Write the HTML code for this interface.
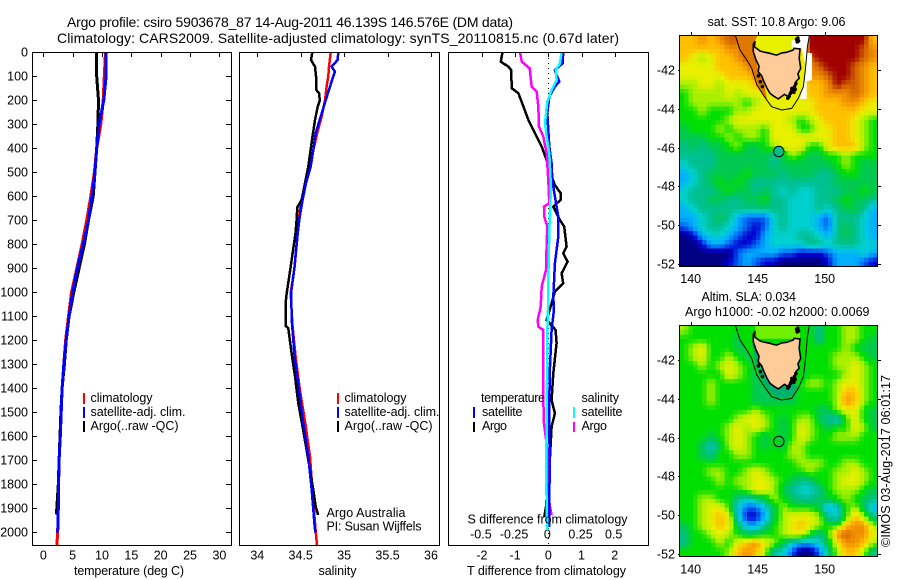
<!DOCTYPE html>
<html lang="en">
<head>
<meta charset="utf-8">
<title>Argo profile 5903678_87</title>
<style>
html,body{margin:0;padding:0;background:#fff;}
svg{display:block;font-family:"Liberation Sans",sans-serif;font-size:12.5px;fill:#000;}
.fr{fill:none;stroke:#000;stroke-width:1;shape-rendering:crispEdges;}
</style>
</head>
<body>
<svg id="root" xmlns="http://www.w3.org/2000/svg" width="900" height="580" viewBox="0 0 900 580">
<rect x="0" y="0" width="900" height="580" fill="#fff"/>
<defs>
<clipPath id="clipMap1"><rect x="680" y="36" width="197" height="230"/></clipPath>
<clipPath id="clipMap2"><rect x="680" y="326" width="197" height="230"/></clipPath>
<clipPath id="clipP1"><rect x="33" y="53" width="198" height="492"/></clipPath>
<clipPath id="clipP2"><rect x="240" y="53" width="199" height="492"/></clipPath>
<clipPath id="clipP3"><rect x="449" y="53" width="199" height="492"/></clipPath>
</defs>

<text x="67" y="27" font-size="14" textLength="446" lengthAdjust="spacing">Argo profile: csiro 5903678_87 14-Aug-2011 46.139S 146.576E (DM data)</text>
<text x="57" y="43" font-size="14" textLength="562" lengthAdjust="spacing">Climatology: CARS2009. Satellite-adjusted climatology: synTS_20110815.nc (0.67d later)</text>

<g id="axes"></g>

<g id="map1" clip-path="url(#clipMap1)"></g>
<g id="map2" clip-path="url(#clipMap2)"></g>

<g id="series1" clip-path="url(#clipP1)"></g>
<g id="series2" clip-path="url(#clipP2)"></g>
<g id="series3" clip-path="url(#clipP3)"></g>

<rect class="fr" x="32.5" y="52.5" width="199" height="493"/>
<rect class="fr" x="239.5" y="52.5" width="200" height="493"/>
<rect class="fr" x="448.5" y="52.5" width="200" height="493"/>
<rect class="fr" x="679.5" y="35.5" width="198" height="231"/>
<rect class="fr" x="679.5" y="325.5" width="198" height="231"/>

<text x="74" y="575" textLength="110" lengthAdjust="spacing">temperature (deg C)</text>
<text x="318.5" y="575" textLength="38" lengthAdjust="spacing">salinity</text>
<text x="467" y="575" textLength="159" lengthAdjust="spacing">T difference from climatology</text>
<text x="467.5" y="523.5" textLength="160" lengthAdjust="spacing">S difference from climatology</text>

<g>
<rect x="83" y="393" width="2" height="11" fill="#f00"/>
<text x="90.5" y="402" textLength="62" lengthAdjust="spacing">climatology</text>
<rect x="83" y="407" width="2" height="11" fill="#00f"/>
<text x="90.5" y="416" textLength="95" lengthAdjust="spacing">satellite-adj. clim.</text>
<rect x="83" y="421" width="2" height="11" fill="#000"/>
<text x="90.5" y="430" textLength="88" lengthAdjust="spacing">Argo(..raw -QC)</text>
</g>
<g>
<rect x="337" y="393" width="2" height="11" fill="#f00"/>
<text x="344.5" y="402" textLength="62" lengthAdjust="spacing">climatology</text>
<rect x="337" y="407" width="2" height="11" fill="#00f"/>
<text x="344.5" y="416" textLength="95" lengthAdjust="spacing">satellite-adj. clim.</text>
<rect x="337" y="421" width="2" height="11" fill="#000"/>
<text x="344.5" y="430" textLength="88" lengthAdjust="spacing">Argo(..raw -QC)</text>
</g>
<text x="326.5" y="517" textLength="79" lengthAdjust="spacing">Argo Australia</text>
<text x="326.5" y="530.5" textLength="95" lengthAdjust="spacing">PI: Susan Wijffels</text>

<g>
<text x="481" y="402" textLength="64" lengthAdjust="spacing">temperature</text>
<rect x="473" y="407" width="2" height="11" fill="#00f"/>
<text x="482" y="416" textLength="40.5" lengthAdjust="spacing">satellite</text>
<rect x="473" y="422" width="2" height="10" fill="#000"/>
<text x="482" y="430" textLength="25" lengthAdjust="spacing">Argo</text>
<text x="581.5" y="402" textLength="37.5" lengthAdjust="spacing">salinity</text>
<rect x="573" y="407" width="2" height="11" fill="#0ff"/>
<text x="581.5" y="416" textLength="41" lengthAdjust="spacing">satellite</text>
<rect x="573" y="422" width="2" height="10" fill="#f0f"/>
<text x="581.5" y="430" textLength="25.5" lengthAdjust="spacing">Argo</text>
</g>

<text x="707.5" y="26" textLength="138" lengthAdjust="spacing">sat. SST: 10.8 Argo: 9.06</text>
<text x="701.5" y="301" textLength="94.5" lengthAdjust="spacing">Altim. SLA: 0.034</text>
<text x="685" y="316" textLength="184.5" lengthAdjust="spacing">Argo h1000: -0.02 h2000: 0.0069</text>
<text transform="translate(890,547) rotate(-90)" textLength="172" lengthAdjust="spacing">©IMOS 03-Aug-2017 06:01:17</text>
</svg>

<script>
/* ---------- tick labels ---------- */
const depthTicks = [0,100,200,300,400,500,600,700,800,900,1000,1100,1200,1300,1400,1500,1600,1700,1800,1900,2000];
const tempTicks = [0,5,10,15,20,25,30];
const salTicks = ['34','34.5','35','35.5','36'];
const tDiffTicks = ['-2','-1','0','1','2'];
const sDiffTicks = ['-0.5','-0.25','0','0.25','0.5'];
const lonTicks = [140,145,150];
const latTicks = [-42,-44,-46,-48,-50,-52];

/* ---------- temperature panel ---------- */
const tempClimDepth = [0,100,200,300,400,500,600,700,800,900,1000,1100,1200,1300,1400,1500,1600,1700,1800,1900,2000,2055];
const tempClim = [10.6,10.4,10.2,9.8,9.1,8.7,8.1,7.4,6.6,5.7,4.8,4.3,3.8,3.5,3.2,3.0,2.85,2.7,2.55,2.5,2.45,2.3];
const tempSatDepth = [0,100,150,200,300,400,500,600,700,800,900,1000,1100,1200,1300,1400,1500,1600,1700,1800,1900,1950,2000];
const tempSat = [10.7,10.7,10.5,10.3,9.5,9.1,8.8,8.3,7.7,6.8,5.8,5.0,4.4,3.9,3.5,3.2,3.05,2.9,2.7,2.6,2.55,2.5,2.45];
const tempArgoDepth = [0,100,200,300,400,500,600,700,800,900,1000,1100,1200,1300,1400,1500,1600,1700,1800,1900,1925];
const tempArgo = [9.1,9.1,9.4,9.3,9.1,8.8,8.5,7.7,7.0,6.1,5.2,4.4,3.9,3.6,3.2,3.0,2.85,2.7,2.55,2.3,2.25];

/* ---------- salinity panel ---------- */
const salClimDepth = [0,60,100,143,200,268,337,407,476,546,615,685,754,837,893,1004,1129,1268,1407,1546,1685,1823,1962,2055];
const salClim = [34.845,34.825,34.817,34.798,34.78,34.74,34.69,34.645,34.607,34.55,34.51,34.48,34.465,34.445,34.43,34.385,34.403,34.441,34.491,34.553,34.607,34.634,34.664,34.687];
const salSatDepth = [0,32,60,80,100,143,200,268,337,407,476,546,615,685,754,837,893,1004,1129,1268,1407,1546,1685,1823,1962,2000];
const salSat = [34.933,34.925,34.856,34.894,34.875,34.837,34.787,34.73,34.672,34.645,34.615,34.56,34.522,34.488,34.465,34.442,34.43,34.388,34.399,34.43,34.48,34.53,34.587,34.626,34.657,34.668];
const salArgoDepth = [0,32,60,100,155,170,200,226,282,337,407,476,546,615,646,698,754,837,893,1004,1046,1080,1140,1150,1254,1351,1462,1560,1657,1740,1823,1893,1928];
const salArgo = [34.633,34.618,34.664,34.676,34.676,34.71,34.72,34.695,34.664,34.641,34.614,34.587,34.549,34.51,34.46,34.453,34.44,34.407,34.384,34.338,34.326,34.33,34.326,34.357,34.395,34.434,34.472,34.522,34.568,34.607,34.645,34.672,34.70];

/* ---------- difference panel ---------- */
const dTArgoDepth = [0,39,60,74,150,171,226,282,337,393,449,518,553,587,615,643,699,726,810,837,872,921,962,997,1060,1115,1157,1212,1337,1449,1504,1560,1685,1893,1935];
const dTArgo = [-1.38,-1.43,-1.2,-1.12,-1.1,-0.9,-0.75,-0.6,-0.4,-0.2,-0.05,0.1,0.2,0.37,0.37,0.15,0.35,0.48,0.55,0.45,0.58,0.4,0.45,0.2,0.07,-0.05,0.22,0.25,0.15,0.1,0.2,0.1,0.05,-0.07,-0.12];
const dTSatDepth = [0,46,74,94,122,143,185,254,324,393,463,532,601,685,768,879,1018,1074,1157,1310,1449,1588,1727,1866,1977];
const dTSat = [0.45,0.43,0.2,0.25,0.33,0.2,0.03,-0.03,0,0.03,0.1,0.12,0.2,0.3,0.3,0.2,0.15,0.17,0.1,0.05,0.03,0.03,0.05,0.02,0.02];
const dSSatDepth = [0,46,74,115,157,206,296,351,421,532,601,740,879,1018,1074,1171,1310,1449,1588,1727,1866,1990];
const dSSat = [0.1,0.0875,0.0575,0.0625,0.025,-0.0075,-0.025,-0.0125,0.0075,0.0175,0.0175,0.0075,0.0025,-0.0025,-0.0025,-0.0075,-0.0075,-0.0125,-0.0125,-0.0175,-0.0125,-0.0075];
const dSArgoDepth = [0,39,67,143,164,226,310,351,421,532,629,643,685,726,810,907,976,1060,1074,1115,1143,1157,1310,1449,1546,1657,1810,1893,1928];
const dSArgo = [-0.2125,-0.2,-0.14,-0.125,-0.0875,-0.075,-0.07,-0.0375,-0.0125,0,0.0075,-0.0325,-0.03,-0.0075,-0.0125,-0.0175,-0.05,-0.0575,-0.0625,-0.08,-0.075,-0.0375,-0.0375,-0.0375,-0.0325,-0.0075,-0.0075,0.0125,0.025];

/* ---------- SST map colour levels, top row first ---------- */
const sstGrid = [
[10,10,11,10,11,12,12,12,9,9,10,9,9,9,13,13,13,13,13,13,13,10],
[10,10,10,10,10,11,11,12,12,9,9,9,9,9,13,13,13,13,13,13,12,11],
[10,9,8,9,10,10,11,12,9,9,9,9,9,9,12,13,13,13,13,13,12,11],
[9,9,9,9,10,10,10,11,12,9,9,9,9,9,11,12,13,13,13,12,11,10],
[9,9,9,9,9,10,10,10,11,9,9,9,9,9,11,11,12,13,13,12,11,10],
[8,8,9,9,8,9,9,9,10,9,9,9,9,9,10,10,11,13,12,12,11,10],
[7,8,8,8,8,9,8,9,9,9,9,9,9,9,10,10,11,11,11,12,11,10],
[7,8,8,8,8,8,8,7,8,9,9,9,9,9,9,10,10,10,11,11,10,9],
[7,7,8,7,7,7,8,8,9,9,9,9,9,9,9,10,10,10,10,10,9,9],
[7,7,7,7,7,8,9,9,9,9,9,9,8,7,8,9,10,10,10,9,8,7],
[6,7,7,7,8,7,8,8,8,7,9,9,9,7,7,9,9,10,10,9,8,7],
[6,6,6,7,7,8,7,8,8,7,9,9,9,9,9,9,9,10,10,9,8,7],
[5,6,5,6,6,7,8,6,6,7,8,9,9,9,7,7,9,10,10,10,8,7],
[5,5,5,5,6,6,6,6,6,6,5,6,8,7,6,6,7,7,8,7,7,7],
[4,5,5,5,6,6,6,6,6,6,5,6,6,6,6,6,6,7,8,7,6,6],
[3,4,5,6,6,6,6,7,6,6,6,5,6,6,6,5,5,6,7,7,6,6],
[3,4,5,6,7,6,7,6,5,5,5,5,5,5,5,5,5,6,6,6,6,6],
[4,5,5,5,6,7,6,6,5,6,5,4,5,4,4,5,5,5,6,6,7,6],
[4,5,5,6,6,5,5,6,6,7,5,5,4,4,4,5,5,6,7,6,6,5],
[3,4,5,5,5,5,5,5,5,5,5,5,4,4,4,5,4,5,6,6,5,3],
[3,3,4,5,6,5,3,2,2,2,4,5,4,4,4,3,2,5,5,5,4,3],
[2,3,4,5,5,4,3,2,1,2,4,5,4,4,4,3,2,5,6,5,4,3],
[0,1,3,4,4,3,2,1,1,3,4,4,4,5,5,4,3,5,6,5,4,3],
[0,0,1,3,3,2,1,1,2,3,4,4,4,4,5,5,4,5,5,5,4,4],
[0,0,0,0,0,0,2,3,3,3,3,2,2,1,1,1,2,3,3,3,4,3],
[0,0,0,0,0,1,2,3,2,1,1,0,0,0,0,0,1,3,3,3,2,1]
];

/* ---------- SLA map colour levels, top row first ---------- */
const slaGrid = [
[8,7,7,7,7,7,7,7,7,7,7,7,7,7,7,5,7,7,8,8,7,7],
[7,7,7,7,7,7,6,6,7,7,7,7,7,7,7,5,7,7,8,8,7,6],
[7,8,9,7,7,7,6,6,6,6,6,6,6,7,7,7,7,7,8,7,6,6],
[7,8,9,7,7,8,7,6,6,6,6,6,6,7,7,7,7,8,8,8,7,6],
[7,7,8,7,8,9,8,7,6,6,6,6,6,6,7,7,7,8,8,9,8,7],
[7,7,7,7,7,9,8,7,6,6,6,6,6,6,7,7,7,7,8,9,8,7],
[7,7,7,8,7,7,7,7,6,6,6,6,6,7,8,8,7,8,9,9,8,7],
[7,7,7,8,7,7,7,7,6,6,6,6,6,7,7,7,7,8,10,10,8,7],
[7,7,7,8,7,7,7,7,6,6,6,6,6,7,7,7,7,8,11,10,8,7],
[7,7,7,7,7,7,7,7,8,7,7,7,7,7,7,6,6,8,9,9,7,6],
[7,7,7,7,7,7,8,9,9,8,7,6,7,8,8,6,5,4,7,9,7,6],
[7,7,7,7,7,8,9,8,9,8,7,6,7,9,8,7,6,7,7,9,8,6],
[7,7,7,6,7,8,9,8,7,6,7,6,7,9,8,7,7,8,8,8,7,7],
[7,7,6,4,6,8,9,8,7,6,7,6,8,8,7,7,7,7,7,7,7,7],
[7,7,6,5,7,7,8,8,7,7,7,7,8,8,7,7,7,7,7,7,7,7],
[7,7,7,7,7,7,7,7,7,7,7,7,7,8,8,8,7,7,8,8,7,7],
[7,7,7,8,8,7,7,8,9,8,7,7,7,7,8,7,7,8,8,9,8,7],
[7,7,7,7,8,7,8,8,9,9,8,7,6,5,5,7,7,8,9,9,8,7],
[7,7,7,7,7,7,7,8,9,9,8,6,5,4,4,5,7,8,8,8,7,6],
[7,7,8,8,7,7,5,4,5,6,8,7,6,5,5,6,6,7,8,7,6,5],
[7,7,8,9,9,7,4,2,2,4,6,8,7,7,7,6,3,4,7,8,6,3],
[7,7,8,9,10,9,4,1,1,3,6,8,9,9,9,8,5,4,7,10,8,5],
[6,7,8,9,10,9,6,3,3,5,7,8,9,10,9,8,7,7,10,11,11,8],
[5,7,7,8,9,8,7,6,6,7,7,8,9,9,7,5,7,11,12,11,11,9],
[5,7,7,7,8,7,9,10,11,9,8,6,4,3,3,4,6,9,11,11,10,8],
[7,7,7,7,7,8,10,11,10,8,5,4,2,0,0,2,5,8,10,10,8,5]
];

const paletteR = [0,0,0,0,0,0,0,0,168,232,255,240,208,160];
const paletteG = [0,0,96,176,208,192,200,224,240,240,192,144,96,0];
const paletteB = [128,208,240,255,208,144,80,0,0,0,0,0,0,0];

/* ---------- geography in degrees ---------- */
const coastLon = [144.67,144.80,144.75,145.17,145.5,145.92,146.2,146.42,146.8,147.16,147.66,147.72,148.16,148.1,148.21,148.0,148.10,147.85,147.78,147.5,147.28,147.0,146.54,146.2,145.92,145.7,145.42,145.3,145.04,145.1,144.87,144.67];
const coastLat = [-40.68,-40.51,-40.80,-41.02,-41.08,-41.14,-41.2,-41.23,-41.12,-41.09,-40.97,-40.88,-40.92,-41.4,-41.91,-42.2,-42.43,-42.6,-42.94,-43.0,-43.38,-43.25,-43.49,-43.35,-43.2,-42.95,-42.52,-42.3,-42.09,-41.8,-41.48,-41.06];
const contourLon = [143.33,143.68,144.18,144.55,144.93,145.42,146.04,146.79,147.54,148.03,148.41,148.58,148.71,148.86];
const contourLat = [-40.2,-40.97,-41.48,-41.91,-42.77,-43.29,-43.89,-44.06,-43.98,-43.46,-42.86,-41.83,-40.8,-40.2];
const noDataLon = [147.54,147.96,148.16,148.86,148.71,149.05,149.05,148.66,148.66,148.16,148.36,148.58,148.28,147.54];
const noDataLat = [-40.49,-40.37,-40.2,-40.2,-41.11,-41.14,-42.52,-42.57,-43.49,-43.49,-42.86,-41.83,-40.88,-40.83];
const westShelfLon = [143.33,143.68,144.18,144.55,144.93,145.42,145.7,145.42,145.04,144.87,144.67,144.8,145.0,143.33];
const westShelfLat = [-40.2,-40.97,-41.48,-41.91,-42.77,-43.29,-43.5,-42.52,-42.09,-41.48,-41.06,-40.5,-40.2,-40.2];
const slaStripLon = [144.58,144.8,145.17,145.8,146.29,147.04,147.66,147.96,146.5];
const slaStripLat = [-41.14,-42.09,-42.86,-43.55,-43.92,-43.98,-43.8,-43.37,-42.5];
const slaNorthLon = [144.8,148.16,148.16,144.93];
const slaNorthLat = [-40.2,-40.2,-40.9,-40.9];
const islandLon = [147.9,148.0,148.05,147.95,147.55,147.65,147.75,147.7,147.85,147.45,147.35,147.25,147.6,147.8,145.05,145.2,145.35];
const islandLat = [-40.42,-40.35,-40.5,-40.55,-42.95,-43.0,-42.85,-43.15,-42.7,-43.2,-43.35,-43.45,-43.1,-43.0,-42.3,-42.6,-42.85];
const argoLon = 146.576;
const argoLat = -46.2;

/* ---------- axis functions ---------- */
const NS = 'http://www.w3.org/2000/svg';
const depthY = d => 52.3 + 0.24 * d;
const tempX = v => 43.3 + 5.87 * v;
const salX = v => 257.3 + 86.85 * (v - 34);
const dTX = v => 548.3 + 33.2 * v;
const dSX = v => 548.3 + 132.8 * v;
const mapX = lon => 690.7 + 13.4 * (lon - 140);
const mapY = (lat, y42) => y42 + 19.4 * (-42 - lat);
const cellX = c => 679.5 + 9 * c;
const cellY = (r, top) => top + 8.885 * r;

function make(tag, parent, attrs) {
  const el = document.createElementNS(NS, tag);
  for (const k in attrs) el.setAttribute(k, attrs[k]);
  parent.appendChild(el);
  return el;
}

const axes = document.getElementById('axes');

function tick(x1, y1, x2, y2, name) {
  const el = make('line', axes, {x1: x1, y1: y1, x2: x2, y2: y2, stroke: '#000', 'stroke-width': 1, 'shape-rendering': 'crispEdges'});
  
  
}
function label(x, y, str, anchor, name) {
  const el = make('text', axes, {x: x, y: y, 'text-anchor': anchor});
  el.textContent = str;
  
  
}

depthTicks.forEach(d => {
  const y = Math.round(depthY(d)) + 0.5;
  tick(33, y, 37, y, 'depth-tick-left');
  tick(226, y, 231, y, 'depth-tick-right');
  label(28, y + 4, String(d), 'end', 'depth-label');
});
tempTicks.forEach(v => {
  const x = Math.round(tempX(v)) + 0.5;
  tick(x, 53, x, 57, 'temperature-tick');
  label(tempX(v), 559.5, String(v), 'middle', 'temperature-tick-label');
});
salTicks.forEach(s => {
  const x = Math.round(salX(parseFloat(s))) + 0.5;
  tick(x, 53, x, 57, 'salinity-tick');
  label(salX(parseFloat(s)), 559.5, s, 'middle', 'salinity-tick-label');
});
tDiffTicks.forEach(s => {
  const x = Math.round(dTX(parseFloat(s))) + 0.5;
  tick(x, 53, x, 57, 't-difference-tick');
  label(dTX(parseFloat(s)), 559.5, s, 'middle', 't-difference-tick-label');
});
sDiffTicks.forEach(s => {
  label(dSX(parseFloat(s)) - 1, 538.5, s, 'middle', 's-difference-tick-label');
});

[[35, 70, 266, 283], [325, 360, 556, 573.5]].forEach(m => {
  lonTicks.forEach(lon => {
    const x = Math.round(mapX(lon)) + 0.5;
    tick(x, m[0] - 3, x, m[0], 'longitude-tick');
    label(mapX(lon), m[3], String(lon), 'middle', 'longitude-label');
  });
  latTicks.forEach(lat => {
    const y = Math.round(mapY(lat, m[1])) + 0.5;
    tick(678, y, 682, y, 'latitude-tick-left');
    tick(878, y, 881, y, 'latitude-tick-right');
    label(675, y + 4, String(lat), 'end', 'latitude-label');
  });
});

/* ---------- profile lines ---------- */
function pts(xs, ds, fx) {
  return xs.map((v, i) => fx(v).toFixed(1) + ',' + depthY(ds[i]).toFixed(1)).join(' ');
}
function profile(groupId, xs, ds, fx, colour, width, name) {
  const el = make('polyline', document.getElementById(groupId), {points: pts(xs, ds, fx), fill: 'none', stroke: colour, 'stroke-width': width, 'shape-rendering': 'crispEdges'});
  
  
}

profile('series1', tempClim, tempClimDepth, tempX, '#f00', 3, 'temperature-climatology-line');
profile('series1', tempArgo, tempArgoDepth, tempX, '#000', 3, 'temperature-argo-line');
profile('series1', tempSat, tempSatDepth, tempX, '#00f', 3, 'temperature-satellite-line');
profile('series2', salClim, salClimDepth, salX, '#f00', 2.5, 'salinity-climatology-line');
profile('series2', salArgo, salArgoDepth, salX, '#000', 2.5, 'salinity-argo-line');
profile('series2', salSat, salSatDepth, salX, '#00f', 2.5, 'salinity-satellite-line');

const zeroLine = make('line', document.getElementById('series3'), {x1: 548.5, y1: 53, x2: 548.5, y2: 545, stroke: '#000', 'stroke-width': 1, 'stroke-dasharray': '1 4', 'shape-rendering': 'crispEdges'});



profile('series3', dTArgo, dTArgoDepth, dTX, '#000', 2.5, 't-difference-argo-line');
profile('series3', dSArgo, dSArgoDepth, dSX, '#f0f', 2.5, 's-difference-argo-line');
profile('series3', dTSat, dTSatDepth, dTX, '#00f', 2.5, 't-difference-satellite-line');
profile('series3', dSSat, dSSatDepth, dSX, '#0ff', 2.5, 's-difference-satellite-line');

/* ---------- maps ---------- */
function levelColour(level) {
  const i = Math.min(Math.floor(level), paletteR.length - 2);
  const f = level - i;
  const mix = a => Math.round(a[i] + (a[i + 1] - a[i]) * f);
  return 'rgb(' + mix(paletteR) + ',' + mix(paletteG) + ',' + mix(paletteB) + ')';
}
function sampleLevel(grid, u, v) {
  const rows = grid.length, cols = grid[0].length;
  const cu = Math.max(0, Math.min(cols - 1.001, u - 0.5));
  const cv = Math.max(0, Math.min(rows - 1.001, v - 0.5));
  const c = Math.floor(cu), r = Math.floor(cv), fu = cu - c, fv = cv - r;
  const top = grid[r][c] * (1 - fu) + grid[r][c + 1] * fu;
  const bot = grid[r + 1][c] * (1 - fu) + grid[r + 1][c + 1] * fu;
  return top * (1 - fv) + bot * fv;
}
function poly(parent, lons, lats, y42, attrs, name) {
  const p = lons.map((lon, i) => mapX(lon).toFixed(1) + ',' + mapY(lats[i], y42).toFixed(1)).join(' ');
  const el = make('polygon', parent, Object.assign({points: p}, attrs));
  
  
  return el;
}
function drawField(g, grid, top) {
  const sub = 2;
  const rows = grid.length * sub, cols = grid[0].length * sub;
  for (let r = 0; r < rows; r++) {
    for (let c = 0; c < cols; c++) {
      const level = sampleLevel(grid, (c + 0.5) / sub, (r + 0.5) / sub);
      const cell = make('rect', g, {x: cellX(c / sub), y: cellY(r / sub, top), width: 4.8, height: 4.7, fill: levelColour(level), 'shape-rendering': 'crispEdges'});
      
      
    }
  }
}
function drawOverlay(g, y42, argoFill) {
  const contour = make('polyline', g, {
    points: contourLon.map((lon, i) => mapX(lon).toFixed(1) + ',' + mapY(contourLat[i], y42).toFixed(1)).join(' '),
    fill: 'none', stroke: '#000', 'stroke-width': 1
  });
  
  
  poly(g, coastLon, coastLat, y42, {fill: '#ffcc99', stroke: '#000', 'stroke-width': 1.6}, 'tasmania-land');
  islandLon.forEach((lon, i) => {
    const dot = make('circle', g, {cx: mapX(lon), cy: mapY(islandLat[i], y42), r: 1.8, fill: '#000'});
    
    
  });
  const marker = make('circle', g, {cx: mapX(argoLon), cy: mapY(argoLat, y42), r: 5.2, fill: argoFill, stroke: '#000', 'stroke-width': 1});
  
  
}

const map1 = document.getElementById('map1');
drawField(map1, sstGrid, 35.5);
poly(map1, contourLon, contourLat, 70, {fill: '#e8f000', stroke: 'none'}, 'shelf-area');
poly(map1, westShelfLon, westShelfLat, 70, {fill: '#e07800', stroke: 'none'}, 'west-shelf-area');
poly(map1, noDataLon, noDataLat, 70, {fill: '#fff', stroke: 'none'}, 'no-data-area');
drawOverlay(map1, 70, '#00c090');

const map2 = document.getElementById('map2');
drawField(map2, slaGrid, 325.5);
poly(map2, contourLon, contourLat, 360, {fill: '#00dc00', stroke: 'none'}, 'shelf-area');
poly(map2, slaNorthLon, slaNorthLat, 360, {fill: '#70f000', stroke: 'none'}, 'north-shelf-area');
poly(map2, slaStripLon, slaStripLat, 360, {fill: '#00b070', stroke: 'none'}, 'coastal-strip');
drawOverlay(map2, 360, 'none');
</script>
</body>
</html>
